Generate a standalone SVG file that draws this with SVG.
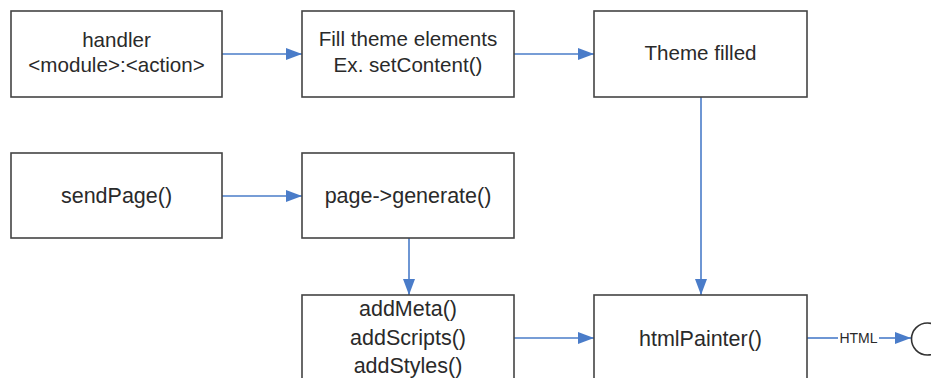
<svg xmlns="http://www.w3.org/2000/svg" width="931" height="378" viewBox="0 0 931 378">
<style>
.box{fill:#fff;stroke:#444;stroke-width:1.6}
.t{font-family:"Liberation Sans",Arial,sans-serif;fill:#2a2a2a;text-anchor:middle}
.t20{font-size:20.6px}
.t22{font-size:21.5px}
.c{stroke:#4a7cc9;stroke-width:1.6;fill:none}
.lbl{font-family:"Liberation Sans",Arial,sans-serif;font-size:14px;fill:#2a2a2a;text-anchor:middle}
</style>
<defs>
<marker id="ah" markerUnits="userSpaceOnUse" markerWidth="17" markerHeight="12" refX="16" refY="6" orient="auto">
<path d="M0,0 L16,6 L0,12 Z" fill="#4a7cc9"/>
</marker>
</defs>
<rect width="931" height="378" fill="#fff"/>
<g id="connectors">
<line class="c" x1="222" y1="54" x2="302" y2="54" marker-end="url(#ah)"/>
<line class="c" x1="514" y1="54" x2="594" y2="54" marker-end="url(#ah)"/>
<line class="c" x1="222" y1="196" x2="302" y2="196" marker-end="url(#ah)"/>
<line class="c" x1="409" y1="238" x2="409" y2="295" marker-end="url(#ah)"/>
<line class="c" x1="701" y1="97" x2="701" y2="295" marker-end="url(#ah)"/>
<line class="c" x1="514" y1="338" x2="594" y2="338" marker-end="url(#ah)"/>
<line class="c" x1="807" y1="338" x2="838" y2="338"/>
<line class="c" x1="879" y1="338" x2="911" y2="338" marker-end="url(#ah)"/>
<text class="lbl" x="858.5" y="343">HTML</text>
</g>
<g id="handler">
<rect class="box" x="11" y="11" width="211" height="86"/>
<text class="t t20" x="116.5" y="47">handler</text>
<text class="t t20" x="116.5" y="72">&lt;module&gt;:&lt;action&gt;</text>
</g>
<g id="fill">
<rect class="box" x="302" y="11" width="212" height="86"/>
<text class="t t20" x="408" y="46">Fill theme elements</text>
<text class="t t20" x="408" y="72">Ex. setContent()</text>
</g>
<g id="themefilled">
<rect class="box" x="594" y="11" width="213" height="86"/>
<text class="t t20" x="700.5" y="60">Theme filled</text>
</g>
<g id="sendpage">
<rect class="box" x="11" y="153" width="211" height="85"/>
<text class="t t22" x="116.5" y="203">sendPage()</text>
</g>
<g id="generate">
<rect class="box" x="302" y="153" width="212" height="85"/>
<text class="t t22" x="408" y="203">page-&gt;generate()</text>
</g>
<g id="add">
<rect class="box" x="302" y="295" width="212" height="110"/>
<text class="t t22" x="408" y="316">addMeta()</text>
<text class="t t22" x="408" y="345">addScripts()</text>
<text class="t t22" x="408" y="373">addStyles()</text>
</g>
<g id="htmlpainter">
<rect class="box" x="594" y="295" width="213" height="110"/>
<text class="t t22" x="700.5" y="346">htmlPainter()</text>
</g>
<g id="end">
<circle cx="927.5" cy="339" r="16" fill="#fff" stroke="#333" stroke-width="1.6"/>
</g>
</svg>
